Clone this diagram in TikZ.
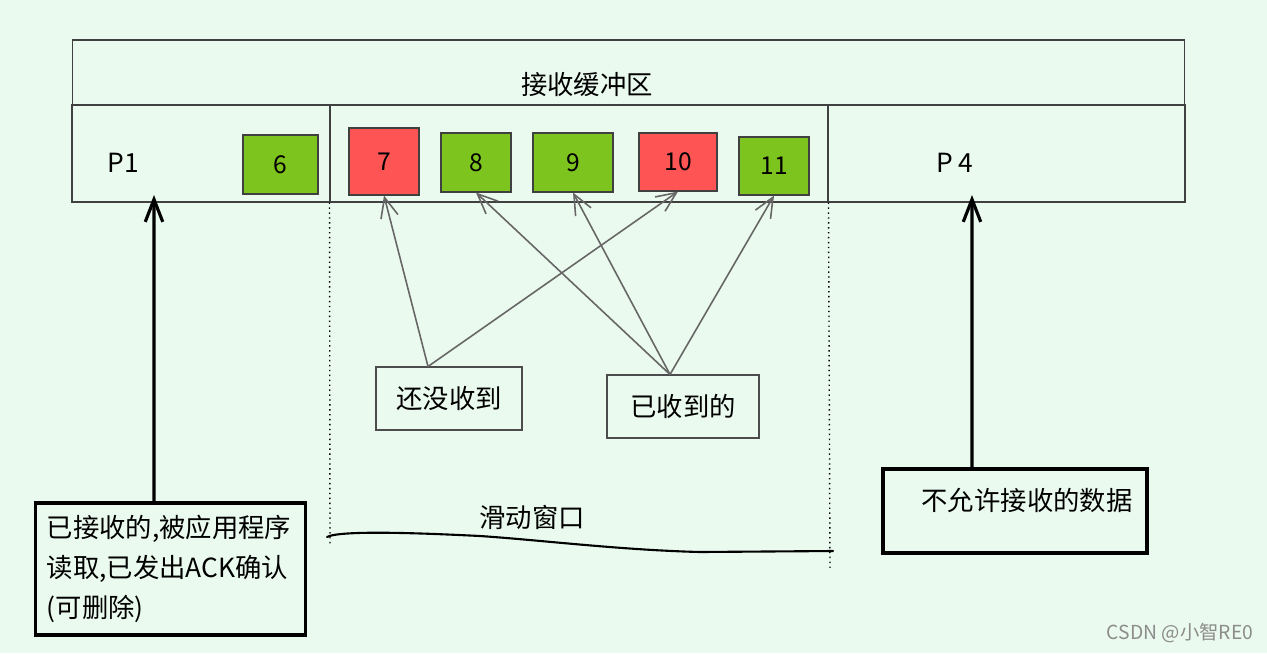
\documentclass[tikz,border=0pt]{standalone}
\usepackage{fontspec}
\newfontfamily\cjk{Noto Sans CJK SC}
\usetikzlibrary{arrows.meta}
\definecolor{bgmint}{RGB}{234,250,238}
\definecolor{okgreen}{RGB}{126,196,30}
\definecolor{lostred}{RGB}{255,84,84}

\begin{document}
\begin{tikzpicture}[
    x=0.02cm, y=-0.02cm,
    frame/.style={draw=black!75, line width=0.6pt},
    cell/.style={frame, inner sep=0pt, font=\cjk\fontsize{14}{16}\selectfont},
    tag/.style={frame, draw=black!70, inner sep=0pt, font=\cjk\fontsize{15}{18}\selectfont},
    note/.style={draw=black, line width=1.8pt, inner sep=0pt},
    txt/.style={font=\cjk\fontsize{15}{18}\selectfont},
    arrow/.style={-{Straight Barb[length=4mm, width=3.5mm]}, line width=0.9pt, black!60},
    bigarrow/.style={-{Straight Barb[length=4.5mm, width=3.5mm]}, line width=1.8pt, black}
]

% Background
\fill[bgmint] (0,0) rectangle (1267,653);
\useasboundingbox (0,0) rectangle (1267,653);

% Receive buffer
\node[frame, minimum width=22.26cm, minimum height=1.3cm] (buf) at (628.5,72.5) {};
\node[txt] (buftext) at (587,85) {接收缓冲区};

% Lower band, three parts
\node[frame, minimum width=5.16cm, minimum height=1.94cm] (seg1) at (201,153.5) {};
\node[frame, minimum width=9.96cm, minimum height=1.94cm] (seg2) at (579,153.5) {};
\node[frame, minimum width=7.14cm, minimum height=1.94cm] (seg3) at (1006.5,153.5) {};
\node[txt] (p1) at (123,163) {P1};
\node[txt] (p4) at (955,163) {P 4};

% Segments
\foreach \n/\cx/\cy/\w/\h/\c in {6/280.5/164.5/1.5/1.18/okgreen,
    7/384/161.5/1.4/1.34/lostred, 8/476/162.5/1.4/1.18/okgreen,
    9/573/162.5/1.6/1.18/okgreen, 10/678/162/1.56/1.16/lostred,
    11/774/166/1.4/1.16/okgreen} {
    \node[cell, fill=\c, minimum width=\w cm, minimum height=\h cm] (c\n) at (\cx,\cy) {\n};
}

% Not received / received
\node[tag, minimum width=2.92cm, minimum height=1.26cm] (miss) at (449,398.5) {还没收到};
\node[tag, minimum width=3.04cm, minimum height=1.26cm] (got) at (683,406.5) {已收到的};

\draw[arrow] ([xshift=-0.42cm]miss.north) -- (c7.south);
\draw[arrow] ([xshift=-0.42cm]miss.north) -- (c10.south);
\draw[arrow] ([xshift=-0.26cm]got.north) -- (c8.south);
\draw[arrow] ([xshift=-0.26cm]got.north) -- (c9.south);
\draw[arrow] ([xshift=-0.26cm]got.north) -- (c11.south);

% Sliding window
\coordinate (winl) at (330,545);
\coordinate (winr) at (830,568);
\draw[dotted, line width=0.8pt] (seg2.south west) -- (winl);
\draw[dotted, line width=0.8pt] (seg2.south east) -- (winr);
\draw[line width=1.2pt, line cap=round] (327,537) .. controls (340,530) and (420,533) .. (480,536)
    .. controls (540,540) and (620,550) .. (700,552) -- (833,551);
\node[txt] (win) at (532,517) {滑动窗口};

% Read by application
\node[note, align=left, text width=4.95cm, inner xsep=0.22cm, minimum height=2.64cm,
    font=\cjk\fontsize{15}{22.7}\selectfont] (acc) at (170.5,569)
    {已接收的,被应用程序\\读取,已发出ACK确认\\(可删除)};
\coordinate (p1tip) at (154,195);
\draw[bigarrow] ([xshift=-0.33cm]acc.north) -- (p1tip);

% Not allowed
\node[note, minimum width=5.28cm, minimum height=1.68cm] (deny) at (1015,511) {};
\node[txt] (denytext) at (1027,500) {不允许接收的数据};
\coordinate (p4tip) at (972,195);
\draw[bigarrow] ([xshift=-0.86cm]deny.north) -- (p4tip);

% Watermark
\node[font=\cjk\fontsize{11}{13}\selectfont, text=black!45] (mark) at (1180,633) {CSDN @小智RE0};

\end{tikzpicture}
\end{document}
